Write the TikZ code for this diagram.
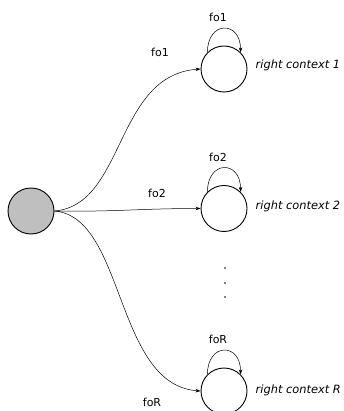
\documentclass[tikz,border=0pt]{standalone}
\usepackage{fontspec}
\setmainfont{DejaVu Sans}
\usetikzlibrary{arrows.meta}
\begin{document}
\begin{tikzpicture}[x=1pt,y=-1pt,
  state/.style={circle,draw,line width=0.9pt,minimum size=46pt,inner sep=0pt},
  start/.style={state,fill=black!25},
  edge/.style={line width=0.5pt,-{Stealth[length=5pt,width=3.5pt]}},
  lbl/.style={font=\fontsize{11}{13}\selectfont,inner sep=0pt},
  ctx/.style={font=\fontsize{11.4}{13}\selectfont\itshape,inner sep=0pt,anchor=west}]
\useasboundingbox (0,0) rectangle (344,411);
\begin{scope}
\clip (0,0) rectangle (344,411);
\node[start] (g) at (31,211) {};
\node[state] (c1) at (224,69) {};
\node[state] (c2) at (224,208.5) {};
\node[state] (cR) at (224,391) {};
% loops
\draw[edge] (c1.135) .. controls +(0,-32) and +(0,-32) .. (c1.45);
\draw[edge] (c2.135) .. controls +(0,-32) and +(0,-32) .. (c2.45);
\draw[edge] (cR.135) .. controls +(0,-32) and +(0,-32) .. (cR.45);
% edges
\draw[edge] (g.east) .. controls +(71,-6) and +(-86,6) .. (c1.west);
\draw[edge] (g.east) .. controls +(60,1) and +(-60,0) .. (c2.west);
\draw[edge] (g.east) .. controls +(71,6) and +(-86,-6) .. (cR.west);
% labels
\node[lbl] (l1) at (218,17.5) {fo1};
\node[lbl] (e1) at (160,52) {fo1};
\node[lbl] (l2) at (218,157) {fo2};
\node[lbl] (e2) at (157,193) {fo2};
\node[lbl] (lR) at (218,339) {foR};
\node[lbl] (eR) at (152,402.5) {foR};
\node[ctx] (t1) at (255.5,65) {right context 1};
\node[ctx] (t2) at (255.5,206) {right context 2};
\node[ctx] (tR) at (255.5,390) {right context R};
% dots
\foreach \yy/\nm in {268/d1,283/d2,297/d3}
  \node[circle,fill,inner sep=0pt,minimum size=1.8pt] (\nm) at (225,\yy) {};
\end{scope}
\end{tikzpicture}
\end{document}
